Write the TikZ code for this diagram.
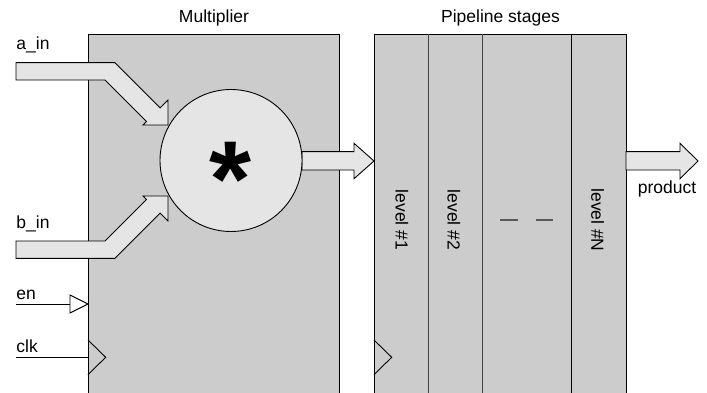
\documentclass[tikz,border=0pt]{standalone}
\usepackage{fontspec}
\setmainfont{Liberation Sans}
\usetikzlibrary{positioning}

\begin{document}
\begin{tikzpicture}[x=1pt,y=-1pt,
font=\fontsize{17.5}{21}\selectfont,
line width=0.9pt,
blockbox/.style={rectangle, draw=black, fill=black!20, minimum height=372pt, anchor=north west, inner sep=0pt},
stagecol/.style={rectangle, minimum height=372pt, anchor=north west, inner sep=0pt, outer sep=0pt},
heading/.style={inner sep=0pt},
portname/.style={inner sep=0pt, anchor=base west},
levelname/.style={rotate=-90, inner sep=0pt},
fatarrow/.style={draw=black, fill=black!10, line join=miter},
divider/.style={draw=black!75},
]
\useasboundingbox (0,0) rectangle (707,393);

%Nodes
\node[blockbox, minimum width=251pt] (mult) at (88,34) {};
\node[blockbox, minimum width=252pt] (pipe) at (374,34) {};
\node[heading, above=7.5pt of mult] (multname) {Multiplier};
\node[heading, above=7.5pt of pipe] (pipename) {Pipeline stages};

\node[stagecol, minimum width=54pt] (lvl1) at (pipe.north west) {};
\node[stagecol, minimum width=54pt, right=0pt of lvl1] (lvl2) {};
\node[stagecol, minimum width=89pt, right=0pt of lvl2] (lvlD) {};
\node[stagecol, minimum width=55pt, right=0pt of lvlD] (lvlN) {};
\node[levelname] (lvl1text) at ([xshift=1pt]lvl1.center) {level \#1};
\node[levelname] (lvl2text) at ([xshift=-1pt]lvl2.center) {level \#2};
\node[levelname] (lvlNtext) at ([xshift=-1pt]lvlN.center) {level \#N};

% output arrow sits under the circle
\draw[fatarrow] (302,151.7) -- (354,151.7) -- (354,143.3) -- (374,161) -- (354,178.7) -- (354,170) -- (302,170) -- cycle;

\node[circle, draw=black, fill=black!10, minimum size=142pt] (mul) at (231,160.5) {};
\node[anchor=base, inner sep=0pt, font=\fontsize{108}{108}\selectfont\bfseries] (star) at ([yshift=-55.5pt]mul.center) {*};

\node[portname] (ainname) at (16,50) {a\_in};
\node[portname] (binname) at (16,228) {b\_in};
\node[portname] (enname) at (16,299) {en};
\node[portname] (clkname) at (16,352) {clk};
\node[heading] (prodname) at (667,189) {product};

%Lines
\draw[divider] (lvl1.north east) -- (lvl1.south east);
\draw[divider] (lvl2.north east) -- (lvl2.south east);
\draw (lvlD.north east) -- (lvlD.south east);
\draw[draw=black!65, line width=1.3pt, dash pattern=on 17.7pt off 18pt] ([xshift=-26.7pt]lvlD.center) -- ([xshift=26.7pt]lvlD.center);

% fat arrows
\draw[fatarrow] (626,151.7) -- (680,151.7) -- (680,143.3) -- (698,161) -- (680,178.7) -- (680,170) -- (626,170) -- cycle;
\draw[fatarrow] (168,125) -- (143,125) -- (146.5,121.5) -- (105,80) -- (16,80) -- (16,62.7) -- (115,62.7) -- (160.2,107.9) -- (168,100.1) -- cycle;
\draw[fatarrow] (168,196) -- (143,196) -- (146.5,199.5) -- (105,241) -- (16,241) -- (16,258.3) -- (115,258.3) -- (160.2,213.1) -- (168,220.9) -- cycle;

% en and clk
\coordinate (enpin) at (70,304);
\draw (16,304) -- (enpin);
\draw[fill=white] (enpin) -- ++(0,-9) -- ++(18,9) -- ++(-18,9) -- cycle;
\draw (16,357.3) -- (mult.west |- 0,357.3);
\draw (88,340) -- (105.7,357.3) -- (88,374.6);
\draw (374,340) -- (391.7,357.3) -- (374,374.6);

\end{tikzpicture}
\end{document}
